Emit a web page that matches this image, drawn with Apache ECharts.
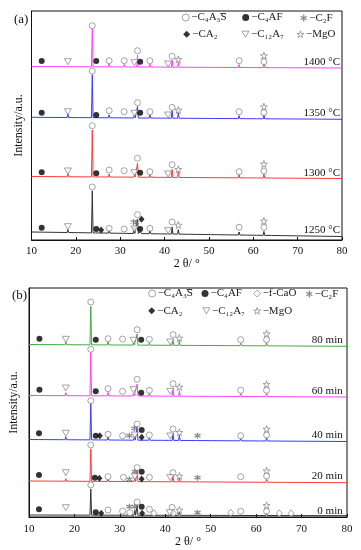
<!DOCTYPE html>
<html>
<head>
<meta charset="utf-8">
<script src="https://cdn.jsdelivr.net/npm/echarts@6/dist/echarts.min.js"></script>
<style>html,body{margin:0;padding:0;background:#fff}#c{width:361px;height:550px}</style>
</head>
<body>
<div id="c"></div>
<script>
// ---------- DATA ----------
const tempLabels = ['1400 °C', '1350 °C', '1300 °C', '1250 °C'];
const timeLabels = ['80 min', '60 min', '40 min', '20 min', '0 min'];

// baselines [at 10°, at 80°] (stacked a.u.)
const base1400 = [173.5, 172];
const base1350 = [122.7, 120.7];
const base1300 = [63.5, 61.5];
const base1250 = [8, 3.5];
const base80 = [172.5, 170.7];
const base60 = [121.5, 120];
const base40 = [77.5, 75.5];
const base20 = [36, 34.3];
const base0 = [2, 1.3];

// peaks [2θ, height above baseline]
const peaks1400 = [[12.3,1],[18.2,2],[20.6,0.6],[23.7,38],[24.6,1.5],[27.5,3],[29.4,1],[30.9,2.5],[33.2,2],[33.9,12],[34.5,1.5],[36.7,3],[39.2,1],[40.8,2],[41.7,7],[43.1,5],[45.5,0.7],[47.1,1],[49.1,0.8],[50.6,1],[52.4,1],[56.8,3],[58.6,1.5],[60.9,1],[62.4,4],[64.3,0.6],[66.7,0.8],[69.4,1],[72.3,0.6],[75.6,0.6]];
const peaks1350 = [[12.3,1],[18.2,4],[20.6,0.6],[23.7,43],[24.6,1.5],[27.5,3],[29.4,1],[30.9,2],[33.2,3],[33.9,11.5],[34.5,1.5],[36.7,3],[39.2,1],[40.8,2],[41.7,7.5],[43.1,5.5],[45.5,0.7],[47.1,1],[49.1,0.8],[50.6,1],[52.4,1],[56.8,3],[58.6,1.5],[60.9,1],[62.4,4.5],[64.3,0.6],[66.7,0.8],[69.4,1],[72.3,0.6],[75.6,0.6]];
const peaks1300 = [[12.3,1],[18.2,3],[20.6,0.6],[23.7,47],[24.6,1.5],[27.5,3],[29.4,1],[30.9,2],[33.2,2.5],[33.9,14],[34.5,1.5],[36.7,3],[39.2,1],[40.8,2],[41.7,8],[43.1,6],[45.5,0.7],[47.1,1],[49.1,0.8],[50.6,1],[52.4,1],[56.8,3],[58.6,1.5],[60.9,1],[62.4,4],[64.3,0.6],[66.7,0.8],[69.4,1],[72.3,0.6],[75.6,0.6]];
const peaks1250 = [[12.3,1],[18.2,3],[20.6,0.6],[23.7,42],[24.6,2],[25.7,1.5],[27.5,3],[29.4,1],[30.9,2],[33.1,7],[33.9,14],[34.6,2],[36.7,3],[39.2,1],[40.8,2],[41.7,7],[43.1,4.5],[45.5,0.7],[47.1,1],[49.1,0.8],[50.6,1],[52.4,1],[56.8,3],[58.6,1.5],[60.9,1],[62.4,4],[64.3,0.6],[66.7,0.8],[69.4,1],[72.3,0.6],[75.6,0.6]];

const peaks80 = [[12.3,1],[18.1,3],[23.6,38.5],[24.7,1.5],[27.4,3],[29.4,1],[30.6,2],[33.0,2.5],[33.8,11],[34.7,1.5],[36.5,2.5],[39.2,1],[41.1,2],[41.7,6],[43.1,5],[45.5,0.7],[47.1,1],[50.6,1],[52.4,1],[56.6,2.5],[58.6,1.2],[60.9,1],[62.3,3.5],[64.3,0.6],[66.7,0.8],[69.4,0.8],[72.3,0.6]];
const peaks60 = [[12.3,1],[18.1,3],[23.6,43.5],[24.7,1.5],[27.4,3.5],[29.4,1],[30.6,2],[33.0,2.5],[33.8,12],[34.7,1.5],[36.5,3],[39.2,1],[41.1,2],[41.7,8],[43.1,5.5],[45.5,0.7],[47.1,1],[50.6,1],[52.4,1],[56.6,3],[58.6,1.2],[60.9,1],[62.3,4],[64.3,0.6],[66.7,0.8],[69.4,0.8],[72.3,0.6]];
const peaks40 = [[12.2,1],[18.1,3],[23.6,37],[24.7,2],[25.6,1.5],[27.4,3],[29.4,1],[30.6,2],[32.1,1.5],[33.2,4],[33.8,13],[34.8,2],[36.5,2.5],[39.2,1],[41.1,2],[41.7,7],[43.1,5],[45.5,0.7],[47.1,1],[50.6,1],[52.4,1],[56.6,2.5],[58.6,1.2],[60.9,1],[62.3,3.5],[64.3,0.6],[66.7,0.8],[69.4,0.8],[72.3,0.6]];
const peaks20 = [[12.2,1],[18.1,2.5],[23.6,32.5],[24.5,2],[25.5,1],[27.4,2.5],[29.4,1],[30.6,1.5],[32.1,1.5],[33.3,4],[33.8,11],[34.8,2],[36.5,2],[39.2,1],[41.1,1.5],[41.7,5.5],[43.1,4],[45.5,0.7],[47.1,1],[50.6,1],[52.4,1],[56.6,2],[58.6,1],[60.9,1],[62.3,3],[64.3,0.6],[66.7,0.8],[69.4,0.8],[72.3,0.6]];
const peaks0 = [[12.2,1],[18.1,2],[23.6,26],[24.7,2],[25.9,1],[27.4,2],[29.4,1],[30.6,1.5],[32.2,1.5],[33.3,5],[33.8,10],[34.9,2],[36.5,2],[37.5,1],[39.2,1],[41.0,1.5],[41.6,5],[43.1,3],[45.5,0.7],[47.1,1],[50.6,1],[52.4,1],[54.4,0.8],[56.6,1.5],[58.6,1],[60.9,1],[62.3,3],[65.1,0.6],[67.7,0.6],[69.4,0.8],[72.3,0.6]];

// phase markers [2θ, stacked a.u.]
const aC4A3S = [[23.7,214.3],[27.5,179.3],[30.9,179.3],[33.9,189.3],[36.7,179.3],[41.7,183.7],[56.8,179.3],[62.4,178.3],
  [23.7,169],[27.5,129.3],[30.9,128.3],[33.9,137.3],[36.7,128.3],[41.7,132.7],[56.8,128.3],[62.4,127.3],
  [23.7,114.3],[27.5,70],[30.9,69.3],[33.9,81.7],[36.7,68.3],[41.7,75.3],[56.8,68.3],[62.4,69],
  [23.7,53],[27.5,11.7],[30.9,11],[33.9,25.3],[36.7,11.7],[41.7,18],[56.8,12.7],[62.4,12.7]];
const aC4AF = [[12.3,179],[24.6,179],[34.5,178.3],[12.3,127.3],[24.6,125],[34.5,127.3],[12.3,67.7],[24.6,66.7],[34.5,67.3],[12.3,12.3],[24.6,11],[34.5,11]];
const aC2F = [[33.0,18],[33.6,17.5]];
const aCA2 = [[25.7,10],[34.8,20.7]];
const aC12A7 = [[18.2,178.3],[33.2,177.3],[40.8,176],[18.2,128.3],[33.2,126.7],[40.8,125],[18.2,69],[33.2,67.3],[40.8,66],[18.2,13.3],[33.2,11],[40.8,9.3]];
const aMgO = [[43.1,180.7],[62.4,184.3],[43.1,130],[62.4,133.3],[43.1,70.7],[62.4,76],[43.1,15],[62.4,19]];

const bC4A3S = [[23.6,215],[27.4,178.3],[30.6,178],[33.8,187.3],[36.5,177.7],[41.7,182.3],[56.6,177.3],[62.3,177.3],
  [23.6,167.7],[27.4,128.3],[30.6,125.7],[33.8,137.7],[36.5,126.7],[41.7,133.3],[56.6,126.7],[62.3,126.7],
  [23.6,116.3],[27.4,82.7],[30.6,81.3],[33.8,93],[36.5,82],[41.7,88],[56.6,81.3],[62.3,82],
  [23.6,72],[27.4,40.3],[30.8,39.7],[33.8,49.3],[36.5,39.7],[41.7,44.3],[56.6,40.3],[62.3,41],
  [23.6,32],[27.4,7],[30.6,6],[32.2,4.3],[33.8,15],[36.5,7.7],[41.5,9.7],[56.6,5.7],[62.3,5.7]];
const bC4AF = [[12.3,178.3],[24.7,177.3],[34.7,177.3],[12.3,127.3],[24.7,125.7],[34.7,124.3],[12.2,83.7],[24.7,81.3],[34.8,87],[12.2,42],[24.5,39.3],[34.8,45.3],[12.2,7.7],[24.7,4.7],[34.8,10.3]];
const bCA2 = [[25.6,81.3],[34.8,79.7],[25.5,38.7],[34.8,38],[25.9,3.7],[34.9,3.7]];
const bC12A7 = [[18.1,177.7],[33.0,176.7],[41.1,175],[18.1,129],[33.0,127.3],[41.1,125.7],[18.1,83.7],[33.3,82],[41.1,81],[18.1,44.3],[33.3,40.3],[41.1,39.3],[18.1,9.3],[41.0,4.3]];
const bC2F = [[32.1,81.3],[33.2,88.7],[47.1,81.3],[32.1,37.7],[33.3,45.3],[47.1,39.3],[32.1,10.3],[33.3,10.3],[47.1,4.3]];
const bMgO = [[43.1,179],[62.3,183.3],[43.1,130],[62.3,132.7],[43.1,84.7],[62.3,88],[43.1,41],[62.3,46.3],[43.1,7],[62.3,11.7]];
const bFCaO = [[37.5,3.7],[41.8,3.7],[54.4,4.3],[65.1,3.7],[67.7,3.7]];

// legend names
const S_PRE = '−C₄A₃', S_LET = 'S';
const N_S = S_PRE + S_LET, N_AF = '−C₄AF', N_C2F = '−C₂F', N_CA2 = '−CA₂', N_C12 = '−C₁₂A₇', N_MgO = '−MgO', N_CaO = '−f-CaO';

// ---------- BUILD ----------
const FONT = '"Liberation Serif","Times New Roman",serif';
const W = 0.18;
function buildLine(base, peaks) {
  const b = t => base[0] + (base[1] - base[0]) * (t - 10) / 70;
  const pts = [[10, base[0]]];
  peaks.forEach(([t, h]) => { pts.push([t - W, b(t - W)], [t, b(t) + h], [t + W, b(t + W)]); });
  pts.push([80, base[1]]);
  return pts;
}
function lineSeries(name, base, peaks, color, idx) {
  return { type: 'line', name, xAxisIndex: idx, yAxisIndex: idx, data: buildLine(base, peaks), symbol: 'none',
    lineStyle: { color, width: 1 }, silent: true, z: 2 };
}
const GRAY = '#808080';
const SYM = {
  [N_S]:   { symbol: 'circle', symbolSize: 6, itemStyle: { color: '#fff', borderColor: GRAY, borderWidth: 0.9 } },
  [N_AF]:  { symbol: 'circle', symbolSize: 6, itemStyle: { color: '#000' } },
  [N_C2F]: { symbol: 'path://M50,0 L50,100 M7,25 L93,75 M7,75 L93,25', symbolSize: 6, itemStyle: { color: 'none', borderColor: '#707070', borderWidth: 1.3 } },
  [N_CA2]: { symbol: 'diamond', symbolSize: [6, 7], itemStyle: { color: '#000' } },
  [N_C12]: { symbol: 'path://M0,0 L100,0 L50,87 Z', symbolSize: [7, 6], itemStyle: { color: '#fff', borderColor: GRAY, borderWidth: 0.9 } },
  [N_MgO]: { symbol: 'path://M50,0 L61,35 L98,35 L68,57 L79,91 L50,70 L21,91 L32,57 L2,35 L39,35 Z', symbolSize: 7, itemStyle: { color: '#fff', borderColor: GRAY, borderWidth: 0.9 } },
  [N_CaO]: { symbol: 'diamond', symbolSize: [6, 7], itemStyle: { color: '#fff', borderColor: GRAY, borderWidth: 0.9 } }
};
function markSeries(name, data, idx) {
  return Object.assign({ type: 'scatter', name, xAxisIndex: idx, yAxisIndex: idx, data, silent: true, z: 5 }, SYM[name]);
}
const LEG_FONT_SIZE = 11;
function legendItem(name, cx, cy) {
  const s = SYM[name];
  return { data: [name], left: cx - 3.5, top: cy - 7, padding: 0, itemWidth: 7, itemHeight: 7, itemGap: 0,
    selectedMode: false, textStyle: { fontFamily: FONT, fontSize: LEG_FONT_SIZE, color: '#222', padding: [0, 0, 0, -3] },
    itemStyle: { borderWidth: s.itemStyle.borderWidth || 0 } };
}
function xAx(idx) {
  return { type: 'value', gridIndex: idx, min: 10, max: 80, interval: 10,
    name: '2 θ/ °', nameLocation: 'middle', nameGap: idx === 0 ? 17 : 15,
    nameTextStyle: { fontFamily: FONT, fontSize: 12, color: '#111' },
    axisLine: { lineStyle: { color: '#111', width: 1 } },
    axisTick: { inside: true, length: 3, lineStyle: { color: '#111' } },
    axisLabel: { fontFamily: FONT, fontSize: 11, color: '#111', margin: idx === 0 ? 6 : 7 },
    splitLine: { show: false } };
}
function yAx(idx) {
  return { type: 'value', gridIndex: idx, min: 0, max: 229,
    name: 'Intensity/a.u.', nameLocation: 'middle', nameGap: idx === 0 ? 7 : 9,
    nameTextStyle: { fontFamily: FONT, fontSize: 12, color: '#111' },
    axisLine: { show: true, lineStyle: { color: '#111', width: 1 } },
    axisTick: { show: false }, axisLabel: { show: false }, splitLine: { show: false } };
}
function txt(text, x, y, align, size) {
  return { type: 'text', silent: true, style: { text, x, y, align, verticalAlign: 'middle', font: size + 'px ' + FONT, fill: '#111' } };
}
// overline (bar) over the S of C4A3S, placed from measured text widths
const mctx = document.createElement('canvas').getContext('2d');
mctx.font = LEG_FONT_SIZE + 'px ' + FONT;
const wPre = mctx.measureText(S_PRE).width, wS = mctx.measureText(S_LET).width;
function sBar(cx, cy) {
  const x0 = cx - 3.5 + 7 + 5 - 3 + wPre;
  return { type: 'line', silent: true, shape: { x1: x0 + 0.3, y1: cy - 5.5, x2: x0 + wS - 0.3, y2: cy - 5.5 },
    style: { stroke: '#222', lineWidth: 0.8 } };
}

const series = [
  lineSeries(tempLabels[0], base1400, peaks1400, '#ff40ff', 0),
  lineSeries(tempLabels[1], base1350, peaks1350, '#3a3aff', 0),
  lineSeries(tempLabels[2], base1300, peaks1300, '#ff3a3a', 0),
  lineSeries(tempLabels[3], base1250, peaks1250, '#333333', 0),
  lineSeries(timeLabels[0], base80, peaks80, '#44aa44', 1),
  lineSeries(timeLabels[1], base60, peaks60, '#ff40ff', 1),
  lineSeries(timeLabels[2], base40, peaks40, '#3a3aff', 1),
  lineSeries(timeLabels[3], base20, peaks20, '#ff3a3a', 1),
  lineSeries(timeLabels[4], base0, peaks0, '#333333', 1),
  markSeries(N_S, aC4A3S, 0), markSeries(N_AF, aC4AF, 0), markSeries(N_C2F, aC2F, 0),
  markSeries(N_CA2, aCA2, 0), markSeries(N_C12, aC12A7, 0), markSeries(N_MgO, aMgO, 0),
  markSeries(N_S, bC4A3S, 1), markSeries(N_AF, bC4AF, 1), markSeries(N_C2F, bC2F, 1),
  markSeries(N_CA2, bCA2, 1), markSeries(N_C12, bC12A7, 1), markSeries(N_MgO, bMgO, 1),
  markSeries(N_CaO, bFCaO, 1)
];

const chart = echarts.init(document.getElementById('c'), null, { renderer: 'canvas' });
chart.setOption({
  animation: false,
  backgroundColor: '#fff',
  grid: [
    { left: 31.5, top: 11, width: 310.5, height: 229, show: true, borderColor: '#111', borderWidth: 1 },
    { left: 29, top: 288, width: 318, height: 229, show: true, borderColor: '#111', borderWidth: 1 }
  ],
  xAxis: [xAx(0), xAx(1)],
  yAxis: [yAx(0), yAx(1)],
  legend: [
    legendItem(N_S, 185.3, 19), legendItem(N_AF, 245.7, 19), legendItem(N_C2F, 301.7, 19),
    legendItem(N_CA2, 186.7, 35.7), legendItem(N_C12, 245, 35.7), legendItem(N_MgO, 300, 35.7),
    legendItem(N_S, 151.7, 295), legendItem(N_AF, 205, 295), legendItem(N_CaO, 256.7, 295), legendItem(N_C2F, 307.3, 295),
    legendItem(N_CA2, 151.7, 312.3), legendItem(N_C12, 206, 312.3), legendItem(N_MgO, 256.7, 312.3)
  ],
  graphic: [
    sBar(185.3, 19), sBar(151.7, 295),
    txt('(a)', 14, 19.5, 'left', 13), txt('(b)', 12, 295.7, 'left', 13),
    txt(tempLabels[0], 340, 61.7, 'right', 11), txt(tempLabels[1], 340, 113.3, 'right', 11),
    txt(tempLabels[2], 340, 172.7, 'right', 11), txt(tempLabels[3], 340, 230, 'right', 11),
    txt(timeLabels[0], 342.7, 340.3, 'right', 11), txt(timeLabels[1], 342.7, 391, 'right', 11),
    txt(timeLabels[2], 342.7, 434.7, 'right', 11), txt(timeLabels[3], 342.7, 476.3, 'right', 11),
    txt(timeLabels[4], 342.7, 511, 'right', 11)
  ],
  series
});
</script>
</body>
</html>
